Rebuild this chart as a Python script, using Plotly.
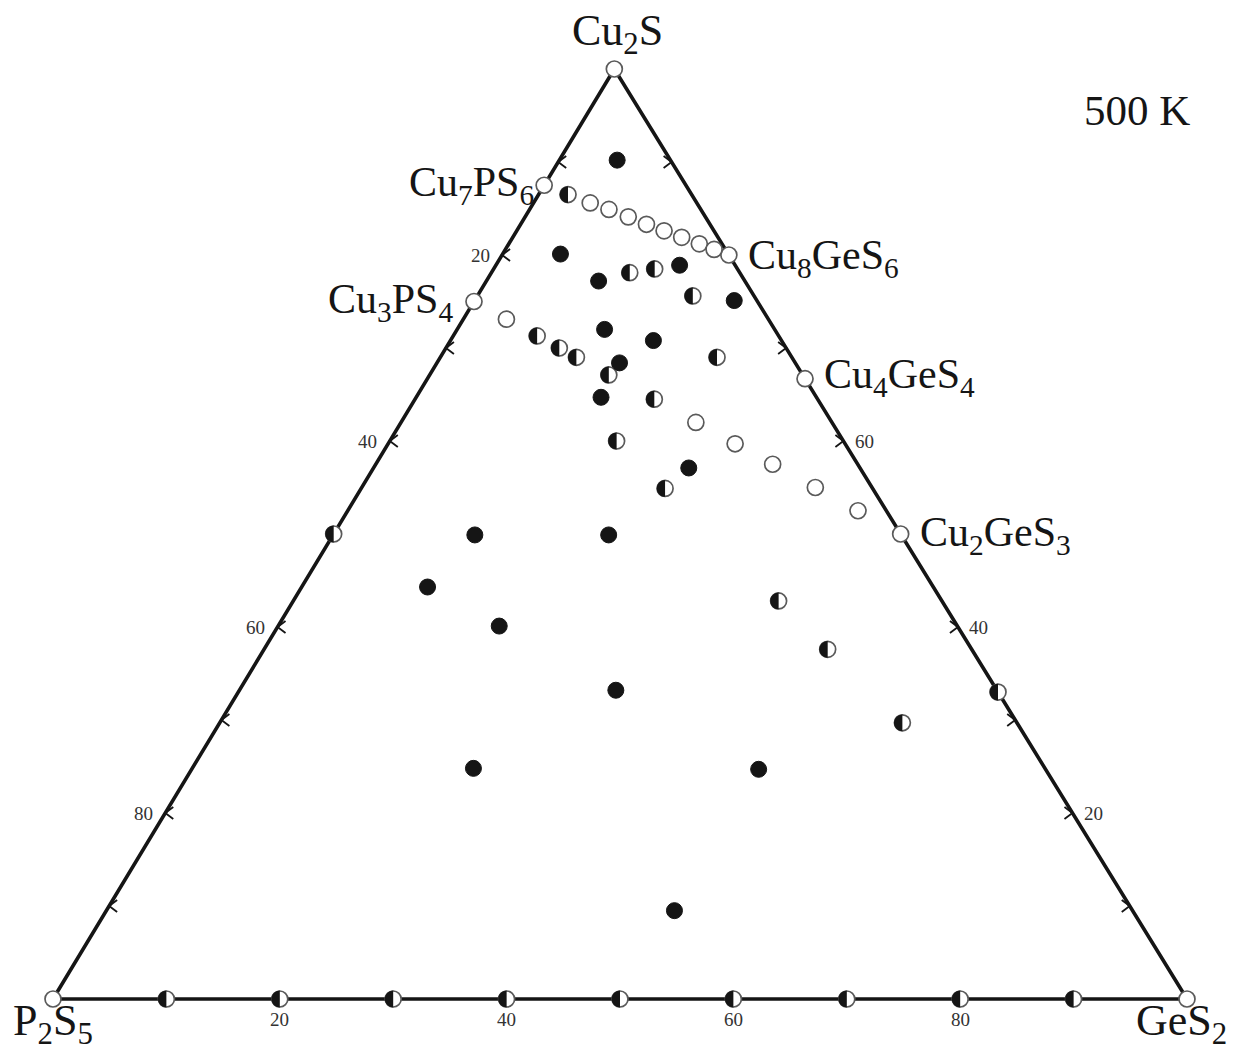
import plotly.graph_objects as go

# ---------------------------------------------------------------------------
# Cu2S - P2S5 - GeS2 isothermal section at 500 K (compositions in mol %)
# Each point is given by its Cu2S and GeS2 content; P2S5 = 100 - Cu2S - GeS2.
# ---------------------------------------------------------------------------

# corners of the concentration triangle
vertex_labels = ["Cu<sub>2</sub>S", "P<sub>2</sub>S<sub>5</sub>", "GeS<sub>2</sub>"]
vertex_cu2s = [100.0, 0.0, 0.0]
vertex_ges2 = [0.0, 0.0, 100.0]

# ternary / binary compounds on the edges
compound_labels = ["Cu<sub>7</sub>PS<sub>6</sub>", "Cu<sub>3</sub>PS<sub>4</sub>",
                   "Cu<sub>8</sub>GeS<sub>6</sub>", "Cu<sub>4</sub>GeS<sub>4</sub>",
                   "Cu<sub>2</sub>GeS<sub>3</sub>"]
compound_cu2s = [87.5, 75.0, 80.0, 66.7, 50.0]
compound_ges2 = [0.0, 0.0, 20.0, 33.3, 50.0]

# single-phase samples (open circles) on the two sections
single_cu2s = [85.6, 84.9, 84.1, 83.3, 82.6, 81.9, 81.2, 80.6,
               73.1, 62.0, 59.7, 57.5, 55.0, 52.5]
single_ges2 = [5.0, 7.0, 9.1, 11.1, 13.0, 14.9, 16.8, 18.4,
               3.8, 26.0, 30.6, 35.0, 40.0, 45.0]

# two-phase samples (half-filled circles)
two_phase_cu2s = [86.5, 78.1, 78.5, 75.6, 71.3, 70.0, 69.0, 67.1, 69.0,
                  64.5, 60.0, 54.9, 42.8, 37.6, 29.7, 50.0, 33.0,
                  0.0, 0.0, 0.0, 0.0, 0.0, 0.0, 0.0, 0.0, 0.0]
two_phase_ges2 = [2.6, 12.2, 14.2, 19.0, 7.4, 10.0, 12.0, 15.8, 24.4,
                  21.1, 20.0, 26.8, 42.8, 49.7, 60.2, 0.0, 67.0,
                  10.0, 20.0, 30.0, 40.0, 50.0, 60.0, 70.0, 80.0, 90.0]

# three-phase samples (filled circles)
three_phase_cu2s = [90.2, 80.1, 77.2, 78.9, 75.1, 72.0, 70.8, 68.4, 64.7,
                    57.1, 49.9, 49.9, 44.3, 40.1, 33.2, 24.8, 24.7, 9.5]
three_phase_ges2 = [5.1, 5.1, 9.9, 16.2, 22.9, 13.0, 17.9, 16.1, 16.3,
                    27.8, 12.5, 24.3, 11.1, 19.5, 33.2, 24.8, 50.0, 50.1]

# edge graduation
left_tick_steps = [10, 20, 30, 40, 60, 70, 80, 90]      # mol % P2S5
right_tick_steps = [10, 20, 30, 40, 60, 70, 90]         # mol % Cu2S
left_tick_labels = [20, 40, 60, 80]
right_tick_labels = [20, 40, 60]
bottom_tick_labels = [20, 40, 60, 80]                   # mol % GeS2

# ---------------------------------------------------------------------------
# geometry of the drawing
# ---------------------------------------------------------------------------
APEX_U = 0.495          # horizontal position of the Cu2S apex along the base
PX_U = 1 / 1134.0       # data units per screen pixel (horizontal)
PX_V = 1 / 930.0        # data units per screen pixel (vertical)
W, H = 1233, 1054
BASE_LEFT_PX, BASE_PX = 53, 999

INK = "#151515"
RIM = "#5a5a5a"
SERIF = "Liberation Serif"


def to_xy(cu2s, ges2):
    xs = [g / 100.0 + APEX_U * c / 100.0 for c, g in zip(cu2s, ges2)]
    ys = [c / 100.0 for c in cu2s]
    return xs, ys


fig = go.Figure()

# triangle outline
ex, ey = to_xy(vertex_cu2s + [vertex_cu2s[0]], vertex_ges2 + [vertex_ges2[0]])
fig.add_trace(go.Scatter(x=ex, y=ey, mode="lines",
                         line=dict(color=INK, width=3.6), hoverinfo="skip"))

# chevron ticks on the left (P2S5) and right (Cu2S) edges
ARM = 10.0
DX, DY = 0.8 * ARM, 0.6 * ARM
tx, ty = [], []
lx, ly = to_xy([100 - p for p in left_tick_steps], [0.0] * len(left_tick_steps))
for x0, y0 in zip(lx, ly):
    tx += [x0 + DX * PX_U, x0, x0 + DX * PX_U, None]
    ty += [y0 + DY * PX_V, y0, y0 - DY * PX_V, None]
rx, ry = to_xy(right_tick_steps, [100 - p for p in right_tick_steps])
for x0, y0 in zip(rx, ry):
    tx += [x0 - DX * PX_U, x0, x0 - DX * PX_U, None]
    ty += [y0 + DY * PX_V, y0, y0 - DY * PX_V, None]
fig.add_trace(go.Scatter(x=tx, y=ty, mode="lines",
                         line=dict(color=INK, width=1.8), hoverinfo="skip"))

MS = 16
open_marker = dict(symbol="circle", size=MS, color="white",
                   line=dict(color=RIM, width=1.7))

# corners and compounds
vx, vy = to_xy(vertex_cu2s, vertex_ges2)
cx, cy = to_xy(compound_cu2s, compound_ges2)
fig.add_trace(go.Scatter(x=vx + cx, y=vy + cy, mode="markers",
                         marker=open_marker, hoverinfo="skip"))

# single-phase samples
sx, sy = to_xy(single_cu2s, single_ges2)
fig.add_trace(go.Scatter(x=sx, y=sy, mode="markers",
                         marker=open_marker, hoverinfo="skip"))

# two-phase samples: open circle, left half blackened by a shape
hx, hy = to_xy(two_phase_cu2s, two_phase_ges2)
fig.add_trace(go.Scatter(x=hx, y=hy, mode="markers",
                         marker=open_marker, hoverinfo="skip"))
r = MS / 2.0 + 0.4
k = 0.5523 * r
half_path = (f"M0,{-r} C{-k},{-r} {-r},{-k} {-r},0 "
             f"C{-r},{k} {-k},{r} 0,{r} Z")
for x0, y0 in zip(hx, hy):
    fig.add_shape(type="path", xref="x", yref="y",
                  xsizemode="pixel", ysizemode="pixel",
                  xanchor=x0, yanchor=y0, path=half_path,
                  fillcolor=INK, line=dict(width=0), layer="above")

# three-phase samples
fx, fy = to_xy(three_phase_cu2s, three_phase_ges2)
fig.add_trace(go.Scatter(x=fx, y=fy, mode="markers",
                         marker=dict(symbol="circle", size=MS, color=INK,
                                     line=dict(color=INK, width=1)),
                         hoverinfo="skip"))

# ---------------------------------------------------------------------------
# text
# ---------------------------------------------------------------------------
corner_font = dict(family=SERIF, size=44, color=INK)
big = dict(family=SERIF, size=42, color=INK)
small = dict(family=SERIF, size=19, color="#333333")
ann = []

# corner names
ann.append(dict(x=vx[0], y=vy[0], text=vertex_labels[0], xshift=3, yshift=36,
                xanchor="center", yanchor="middle", font=corner_font))
ann.append(dict(x=vx[1], y=vy[1], text=vertex_labels[1], xshift=0, yshift=-54,
                xanchor="center", yanchor="bottom", font=corner_font))
ann.append(dict(x=vx[2], y=vy[2], text=vertex_labels[2], xshift=-6, yshift=-54,
                xanchor="center", yanchor="bottom", font=corner_font))

# compound names
comp_pos = [("right", -8, 0), ("right", -19, 0), ("left", 17, -3),
            ("left", 17, 2), ("left", 17, -1)]
for (anchor, dx, dy), x0, y0, t in zip(comp_pos, cx, cy, compound_labels):
    ann.append(dict(x=x0, y=y0, text=t, xanchor=anchor, yanchor="middle",
                    xshift=dx, yshift=dy, font=big))

# graduation labels
glx, gly = to_xy([100 - p for p in left_tick_labels], [0.0] * len(left_tick_labels))
for x0, y0, p in zip(glx, gly, left_tick_labels):
    ann.append(dict(x=x0, y=y0, text=str(p), xshift=-22, yshift=0,
                    xanchor="center", yanchor="middle", font=small))
grx, gry = to_xy(right_tick_labels, [100 - p for p in right_tick_labels])
for x0, y0, p in zip(grx, gry, right_tick_labels):
    ann.append(dict(x=x0, y=y0, text=str(p), xshift=21, yshift=0,
                    xanchor="center", yanchor="middle", font=small))
gbx, gby = to_xy([0.0] * len(bottom_tick_labels), bottom_tick_labels)
for x0, y0, p in zip(gbx, gby, bottom_tick_labels):
    ann.append(dict(x=x0, y=y0, text=str(p), xshift=0, yshift=-20,
                    xanchor="center", yanchor="middle", font=small))

# temperature
ann.append(dict(x=1137 / W, y=1 - 110 / H, xref="paper", yref="paper",
                text="500 K", xanchor="center", yanchor="middle",
                font=dict(family=SERIF, size=43, color=INK)))

for a in ann:
    a.setdefault("showarrow", False)
fig.update_layout(annotations=ann)

fig.update_layout(
    width=W, height=H, autosize=False,
    margin=dict(l=0, r=0, t=0, b=0),
    paper_bgcolor="white", plot_bgcolor="white",
    showlegend=False,
    xaxis=dict(visible=False, range=[-BASE_LEFT_PX * PX_U, (W - BASE_LEFT_PX) * PX_U],
               fixedrange=True),
    yaxis=dict(visible=False, range=[-(H - BASE_PX) * PX_V, BASE_PX * PX_V],
               fixedrange=True),
)

fig.write_html("out.html")
